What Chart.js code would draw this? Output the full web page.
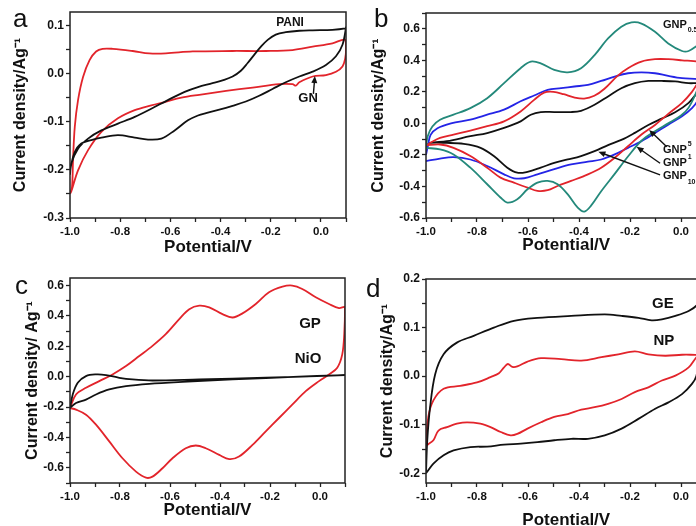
<!DOCTYPE html>
<html>
<head>
<meta charset="utf-8">
<script src="https://cdn.jsdelivr.net/npm/chart.js@4.4.1/dist/chart.umd.min.js"></script>
<style>
  html, body { margin: 0; padding: 0; background: #fff; overflow: hidden; width: 696px; height: 526px; position: relative; }
  canvas { position: absolute; }
</style>
</head>
<body>
<canvas id="chartA" width="350" height="262" style="left:0;top:0"></canvas>
<canvas id="chartB" width="362" height="262" style="left:350px;top:0"></canvas>
<canvas id="chartC" width="350" height="272" style="left:0;top:262px"></canvas>
<canvas id="chartD" width="362" height="272" style="left:350px;top:262px"></canvas>
<script>
const FONT = "'Liberation Sans', Arial, Helvetica, sans-serif";
const INK = '#111111';
const RED = '#e2242b', TEAL = '#24897b', BLUE = '#2424e6', BLACK = '#111111';

// shared potential axis
const xTicks = [-1.0, -0.9, -0.8, -0.7, -0.6, -0.5, -0.4, -0.3, -0.2, -0.1, 0.0, 0.1];
const xMajor = [-1.0, -0.8, -0.6, -0.4, -0.2, 0.0];

// (a) PANI / GN
const aYTicks = [-0.3, -0.25, -0.2, -0.15, -0.1, -0.05, 0.0, 0.05, 0.1];
const aYMajor = [-0.3, -0.2, -0.1, 0.0, 0.1];
const aPaniV = [-1.0, -0.995, -0.968, -0.928, -0.875, -0.809, -0.742, -0.676, -0.61, -0.543, -0.49, -0.432, -0.392, -0.352, -0.319, -0.292, -0.266, -0.239, -0.212, -0.18, -0.14, -0.086, -0.033, 0.046, 0.097,
                0.1, 0.086, 0.06, 0.02, -0.033, -0.086, -0.14, -0.193, -0.246, -0.299, -0.352, -0.405, -0.458, -0.49, -0.53, -0.583, -0.636, -0.689, -0.742, -0.809, -0.875, -0.915, -0.955, -0.981, -0.997, -1.0];
const aPaniI = [-0.21, -0.187, -0.156, -0.135, -0.118, -0.104, -0.09, -0.073, -0.055, -0.038, -0.028, -0.02, -0.014, -0.006, 0.006, 0.022, 0.039, 0.056, 0.07, 0.081, 0.086, 0.089, 0.09, 0.091, 0.094,
                0.096, 0.06, 0.036, 0.018, 0.004, -0.006, -0.018, -0.032, -0.046, -0.058, -0.067, -0.075, -0.082, -0.087, -0.097, -0.118, -0.135, -0.137, -0.133, -0.128, -0.133, -0.138, -0.145, -0.163, -0.194, -0.21];
const aGnV = [-1.0, -0.992, -0.988, -0.981, -0.968, -0.948, -0.922, -0.896, -0.87, -0.83, -0.75, -0.684, -0.618, -0.511, -0.352, -0.219, -0.113, -0.033, 0.046, 0.097,
              0.1, 0.097, 0.086, 0.06, 0.02, -0.033, -0.086, -0.1, -0.113, -0.166, -0.272, -0.378, -0.485, -0.556, -0.623, -0.676, -0.742, -0.809, -0.875, -0.928, -0.968, -0.995, -1.0];
const aGnI = [-0.25, -0.236, -0.18, -0.111, -0.055, -0.007, 0.028, 0.046, 0.0515, 0.0515, 0.047, 0.042, 0.042, 0.046, 0.047, 0.047, 0.049, 0.056, 0.063, 0.07,
              0.05, 0.032, 0.015, 0.004, -0.003, -0.006, -0.018, -0.025, -0.022, -0.022, -0.029, -0.036, -0.044, -0.05, -0.059, -0.066, -0.076, -0.093, -0.121, -0.159, -0.201, -0.245, -0.25];

// (b) GNP series
const bYTicks = [-0.6, -0.5, -0.4, -0.3, -0.2, -0.1, 0.0, 0.1, 0.2, 0.3, 0.4, 0.5, 0.6, 0.7];
const bYMajor = [-0.6, -0.4, -0.2, 0.0, 0.2, 0.4, 0.6];
const bGnp05V = [-1.0, -0.993, -0.975, -0.945, -0.892, -0.826, -0.76, -0.694, -0.629, -0.589, -0.55, -0.497, -0.444, -0.392, -0.339, -0.286, -0.234, -0.194, -0.155, -0.102, -0.05, 0.004, 0.03, 0.067, 0.1,
                 0.085, 0.063, 0.03, 0.0, -0.05, -0.102, -0.155, -0.208, -0.26, -0.313, -0.352, -0.379, -0.405, -0.444, -0.484, -0.523, -0.563, -0.602, -0.642, -0.681, -0.708, -0.76, -0.826, -0.892, -0.945, -1.0];
const bGnp05I = [-0.15, -0.08, -0.02, 0.023, 0.055, 0.097, 0.16, 0.255, 0.35, 0.392, 0.381, 0.339, 0.324, 0.35, 0.433, 0.539, 0.613, 0.64, 0.633, 0.581, 0.507, 0.459, 0.459, 0.497, 0.53,
                 0.33, 0.21, 0.1, 0.05, 0.0, -0.05, -0.11, -0.21, -0.32, -0.43, -0.52, -0.559, -0.534, -0.45, -0.386, -0.365, -0.376, -0.418, -0.481, -0.502, -0.47, -0.386, -0.281, -0.197, -0.165, -0.155];
const bGnp5V = [-1.0, -0.984, -0.945, -0.892, -0.826, -0.76, -0.694, -0.629, -0.576, -0.537, -0.5, -0.46, -0.42, -0.38, -0.34, -0.3, -0.25, -0.208, -0.155, -0.102, -0.05, 0.004, 0.067, 0.1,
                0.067, 0.043, 0.004, -0.05, -0.102, -0.155, -0.208, -0.26, -0.313, -0.365, -0.431, -0.484, -0.523, -0.563, -0.602, -0.655, -0.708, -0.76, -0.826, -0.892, -0.945, -1.0];
const bGnp5I = [-0.14, -0.124, -0.092, -0.071, -0.046, -0.018, 0.013, 0.076, 0.149, 0.195, 0.2, 0.185, 0.165, 0.157, 0.175, 0.22, 0.3, 0.35, 0.392, 0.407, 0.407, 0.4, 0.39, 0.35,
                0.26, 0.2, 0.13, 0.06, -0.01, -0.071, -0.145, -0.218, -0.281, -0.323, -0.365, -0.397, -0.424, -0.428, -0.407, -0.376, -0.344, -0.281, -0.207, -0.155, -0.134, -0.14];
const bGnp1V = [-1.0, -0.993, -0.982, -0.955, -0.902, -0.826, -0.76, -0.694, -0.629, -0.576, -0.523, -0.47, -0.418, -0.365, -0.313, -0.26, -0.208, -0.155, -0.102, -0.05, 0.004, 0.067, 0.1,
                0.067, 0.043, 0.004, -0.05, -0.102, -0.155, -0.208, -0.26, -0.313, -0.365, -0.431, -0.497, -0.563, -0.615, -0.655, -0.694, -0.76, -0.826, -0.892, -0.945, -1.0];
const bGnp1I = [-0.2, -0.147, -0.073, -0.031, 0.0, 0.024, 0.055, 0.087, 0.14, 0.177, 0.213, 0.223, 0.234, 0.244, 0.269, 0.297, 0.318, 0.324, 0.318, 0.301, 0.287, 0.281, 0.27,
                0.149, 0.097, 0.045, -0.008, -0.061, -0.113, -0.155, -0.197, -0.229, -0.243, -0.26, -0.29, -0.323, -0.348, -0.348, -0.323, -0.27, -0.229, -0.214, -0.223, -0.239];
const bGnp10V = [-1.0, -0.984, -0.918, -0.826, -0.76, -0.694, -0.629, -0.589, -0.55, -0.497, -0.431, -0.392, -0.339, -0.286, -0.234, -0.181, -0.128, -0.076, -0.023, 0.03, 0.067, 0.1,
                 0.067, 0.03, -0.023, -0.076, -0.128, -0.181, -0.234, -0.286, -0.339, -0.392, -0.444, -0.497, -0.55, -0.602, -0.642, -0.681, -0.734, -0.786, -0.852, -0.918, -0.984, -1.0];
const bGnp10I = [-0.14, -0.124, -0.113, -0.081, -0.061, -0.029, 0.013, 0.055, 0.072, 0.072, 0.072, 0.08, 0.118, 0.171, 0.223, 0.255, 0.269, 0.269, 0.266, 0.255, 0.255, 0.25,
                 0.2, 0.13, 0.07, 0.03, -0.01, -0.06, -0.105, -0.138, -0.176, -0.207, -0.229, -0.25, -0.281, -0.307, -0.313, -0.281, -0.207, -0.155, -0.13, -0.124, -0.124, -0.14];

// (c) GP / NiO
const cYTicks = [-0.7, -0.6, -0.5, -0.4, -0.3, -0.2, -0.1, 0.0, 0.1, 0.2, 0.3, 0.4, 0.5, 0.6];
const cYMajor = [-0.6, -0.4, -0.2, 0.0, 0.2, 0.4, 0.6];
const cGpV = [-1.0, -0.976, -0.936, -0.883, -0.83, -0.776, -0.723, -0.67, -0.617, -0.563, -0.523, -0.483, -0.443, -0.39, -0.35, -0.31, -0.257, -0.204, -0.15, -0.111, -0.071, -0.017, 0.036, 0.076, 0.1,
              0.097, 0.089, 0.069, 0.036, -0.004, -0.057, -0.111, -0.164, -0.217, -0.27, -0.324, -0.363, -0.403, -0.457, -0.497, -0.537, -0.59, -0.63, -0.67, -0.696, -0.736, -0.79, -0.843, -0.896, -0.936, -0.976, -1.0];
const cGpI = [-0.206, -0.117, -0.073, -0.029, 0.015, 0.07, 0.136, 0.203, 0.28, 0.379, 0.445, 0.468, 0.457, 0.412, 0.39, 0.417, 0.479, 0.556, 0.593, 0.6, 0.578, 0.523, 0.479, 0.452, 0.457,
              0.28, 0.147, 0.059, 0.015, -0.029, -0.095, -0.184, -0.272, -0.36, -0.449, -0.526, -0.543, -0.515, -0.471, -0.453, -0.471, -0.537, -0.603, -0.658, -0.665, -0.625, -0.537, -0.426, -0.316, -0.25, -0.217, -0.206];
const cNioV = [-1.0, -0.989, -0.969, -0.936, -0.896, -0.856, -0.803, -0.75, -0.67, -0.483, -0.217, 0.1,
               -0.084, -0.35, -0.55, -0.683, -0.776, -0.843, -0.896, -0.936, -0.976, -1.0];
const cNioI = [-0.206, -0.117, -0.04, 0.004, 0.015, 0.011, -0.007, -0.018, -0.025, -0.018, -0.007, 0.011,
               0.0, -0.018, -0.034, -0.047, -0.062, -0.084, -0.117, -0.151, -0.173, -0.206];

// (d) GE / NP
const dYTicks = [-0.2, -0.15, -0.1, -0.05, 0.0, 0.05, 0.1, 0.15, 0.2];
const dYMajor = [-0.2, -0.1, 0.0, 0.1, 0.2];
const dGeV = [-1.0, -0.995, -0.984, -0.964, -0.931, -0.879, -0.813, -0.734, -0.655, -0.563, -0.431, -0.299, -0.233, -0.167, -0.115, -0.075, -0.022, 0.03, 0.067, 0.1,
              0.085, 0.07, 0.06, 0.043, 0.004, -0.049, -0.101, -0.167, -0.233, -0.299, -0.365, -0.431, -0.497, -0.563, -0.628, -0.694, -0.76, -0.826, -0.892, -0.931, -0.971, -0.997, -1.0];
const dGeI = [-0.2, -0.132, -0.064, 0.004, 0.045, 0.069, 0.083, 0.1, 0.114, 0.12, 0.124, 0.127, 0.124, 0.12, 0.115, 0.117, 0.124, 0.134, 0.148, 0.17,
              0.1, 0.03, 0.0, -0.016, -0.037, -0.054, -0.067, -0.088, -0.108, -0.122, -0.129, -0.129, -0.132, -0.136, -0.139, -0.141, -0.145, -0.146, -0.153, -0.163, -0.18, -0.198, -0.2];
const dNpV = [-1.0, -0.991, -0.971, -0.931, -0.866, -0.8, -0.747, -0.714, -0.694, -0.679, -0.661, -0.642, -0.602, -0.549, -0.47, -0.391, -0.312, -0.246, -0.181, -0.128, -0.062, 0.004, 0.067, 0.1,
              0.067, 0.03, -0.022, -0.075, -0.128, -0.181, -0.233, -0.286, -0.339, -0.391, -0.444, -0.497, -0.549, -0.602, -0.642, -0.668, -0.707, -0.747, -0.787, -0.839, -0.879, -0.918, -0.951, -0.971, -0.991, -1.0];
const dNpI = [-0.142, -0.084, -0.05, -0.026, -0.02, -0.013, -0.002, 0.006, 0.018, 0.025, 0.019, 0.02, 0.03, 0.037, 0.035, 0.032, 0.039, 0.045, 0.051, 0.045, 0.042, 0.044, 0.044, 0.045,
              0.042, 0.018, 0.001, -0.009, -0.023, -0.033, -0.047, -0.057, -0.064, -0.069, -0.078, -0.084, -0.095, -0.108, -0.119, -0.122, -0.115, -0.105, -0.098, -0.095, -0.098, -0.105, -0.112, -0.132, -0.14, -0.142];

const pts = (v, i) => v.map((x, k) => ({ x, y: i[k] }));
const fmt = v => Math.abs(v) < 1e-9 ? '0.0' : v.toFixed(1);
const isIn = (list, v) => list.some(m => Math.abs(m - v) < 1e-6);

function arrow(ctx, x1, y1, x2, y2) {
    const a = Math.atan2(y2 - y1, x2 - x1), h = 7, w = 3;
    ctx.beginPath(); ctx.moveTo(x1, y1); ctx.lineTo(x2 - Math.cos(a) * h * 0.8, y2 - Math.sin(a) * h * 0.8); ctx.stroke();
    ctx.beginPath(); ctx.moveTo(x2, y2);
    ctx.lineTo(x2 - h * Math.cos(a) + w * Math.sin(a), y2 - h * Math.sin(a) - w * Math.cos(a));
    ctx.lineTo(x2 - h * Math.cos(a) - w * Math.sin(a), y2 - h * Math.sin(a) + w * Math.cos(a));
    ctx.closePath(); ctx.fill();
}

// box around the plot, panel letter, curve labels and arrows
const decor = {
    id: 'decor',
    afterDatasetsDraw(chart, args, o) {
        const { ctx, chartArea: a, scales: { x, y } } = chart;
        ctx.save();
        ctx.strokeStyle = '#222'; ctx.lineWidth = 1.5;
        ctx.strokeRect(a.left, a.top, a.right - a.left, a.bottom - a.top);
        ctx.fillStyle = INK; ctx.strokeStyle = INK;
        (o.labels || []).forEach(l => {
            const px = x.getPixelForValue(l.v), py = y.getPixelForValue(l.i);
            ctx.font = `bold ${l.size}px ${FONT}`;
            ctx.textAlign = l.align || 'center'; ctx.textBaseline = 'middle';
            ctx.fillText(l.text, px, py);
            if (l.script) {
                const w = ctx.measureText(l.text).width;
                ctx.font = `bold 7px ${FONT}`; ctx.textAlign = 'left';
                ctx.fillText(l.script, px + w + 1, py + l.dy);
            }
        });
        ctx.lineWidth = 1.4;
        (o.arrows || []).forEach(r => arrow(ctx, x.getPixelForValue(r[0]), y.getPixelForValue(r[1]), x.getPixelForValue(r[2]), y.getPixelForValue(r[3])));
        ctx.font = `26px ${FONT}`; ctx.textAlign = 'left'; ctx.textBaseline = 'alphabetic';
        ctx.fillText(o.letter[0], o.letter[1], o.letter[2]);
        ctx.restore();
    }
};

function line(data, color) {
    return { data, borderColor: color, borderWidth: 1.8, pointRadius: 0, showLine: true, fill: false, tension: 0.35 };
}

function panel(id, p) {
    return new Chart(document.getElementById(id), {
        type: 'scatter',
        data: { datasets: p.datasets },
        plugins: [decor],
        options: {
            responsive: false, animation: false,
            layout: { padding: { top: p.top, right: p.right, left: 0, bottom: 0 } },
            plugins: { legend: { display: false }, tooltip: { enabled: false }, decor: p.decor },
            scales: {
                x: {
                    type: 'linear', min: -1, max: 0.1,
                    afterBuildTicks: s => { s.ticks = xTicks.map(value => ({ value })); },
                    afterFit: s => { s.height = p.xh; },
                    border: { display: false },
                    grid: { drawOnChartArea: false, tickLength: 4, tickColor: '#222', tickWidth: 1.3 },
                    ticks: { autoSkip: false, maxRotation: 0, padding: 3, color: INK, font: { family: FONT, size: 11.5, weight: 'bold' },
                             callback: v => isIn(xMajor, v) ? fmt(v) : '' },
                    title: { display: true, text: 'Potential/V', color: INK, font: { family: FONT, size: 17, weight: 'bold' },
                             padding: { top: 0, bottom: p.xtp } }
                },
                y: {
                    type: 'linear', min: p.ymin, max: p.ymax,
                    afterBuildTicks: s => { s.ticks = p.yTicks.map(value => ({ value })); },
                    afterFit: s => { s.width = p.yw; },
                    border: { display: false },
                    grid: { drawOnChartArea: false, tickLength: 4, tickColor: '#222', tickWidth: 1.3 },
                    ticks: { autoSkip: false, padding: 2, color: INK, font: { family: FONT, size: 12, weight: 'bold' },
                             callback: v => isIn(p.yMajor, v) ? fmt(v) : '' },
                    title: { display: true, text: p.ytitle, color: INK, font: { family: FONT, size: 16, weight: 'bold' },
                             padding: { top: p.ytp, bottom: 0 } }
                }
            }
        }
    });
}

panel('chartA', {
    top: 12, right: 4, xh: 44, yw: 70, xtp: 4.8, ytp: 11.4, ymin: -0.3, ymax: 0.128,
    yTicks: aYTicks, yMajor: aYMajor, ytitle: 'Current density/Ag\u207B\u00B9',
    datasets: [line(pts(aPaniV, aPaniI), BLACK), line(pts(aGnV, aGnI), RED)],
    decor: {
        letter: ['a', 13, 27],
        labels: [{ text: 'PANI', v: -0.123, i: 0.105, size: 12 }, { text: 'GN', v: -0.051, i: -0.051, size: 13 }],
        arrows: [[-0.03, -0.042, -0.024, -0.005]]
    }
});

panel('chartB', {
    top: 13, right: 5.5, xh: 44, yw: 76, xtp: 6.8, ytp: 19.4, ymin: -0.6, ymax: 0.7,
    yTicks: bYTicks, yMajor: bYMajor, ytitle: 'Current density/Ag\u207B\u00B9',
    datasets: [line(pts(bGnp05V, bGnp05I), TEAL), line(pts(bGnp5V, bGnp5I), RED),
               line(pts(bGnp1V, bGnp1I), BLUE), line(pts(bGnp10V, bGnp10I), BLACK)],
    decor: {
        letter: ['b', 24, 27],
        labels: [
            { text: 'GNP', v: -0.071, i: 0.624, size: 11, align: 'left', script: '0.5', dy: 5 },
            { text: 'GNP', v: -0.071, i: -0.169, size: 11, align: 'left', script: '5', dy: -6 },
            { text: 'GNP', v: -0.071, i: -0.251, size: 11, align: 'left', script: '1', dy: -6 },
            { text: 'GNP', v: -0.071, i: -0.334, size: 11, align: 'left', script: '10', dy: 6 }
        ],
        arrows: [[-0.056, -0.148, -0.125, -0.042], [-0.082, -0.253, -0.174, -0.148], [-0.082, -0.327, -0.324, -0.18]]
    }
});

panel('chartC', {
    top: 16, right: 5, xh: 51, yw: 70, xtp: 13.8, ytp: 23.4, ymin: -0.7, ymax: 0.65,
    yTicks: cYTicks, yMajor: cYMajor, ytitle: 'Current density/ Ag\u207B\u00B9',
    datasets: [line(pts(cNioV, cNioI), BLACK), line(pts(cGpV, cGpI), RED)],
    decor: {
        letter: ['c', 15, 32],
        labels: [{ text: 'GP', v: -0.04, i: 0.347, size: 15 }, { text: 'NiO', v: -0.048, i: 0.117, size: 15 }]
    }
});

panel('chartD', {
    top: 17, right: 5.5, xh: 51, yw: 76, xtp: 3.8, ytp: 28.4, ymin: -0.22, ymax: 0.2,
    yTicks: dYTicks, yMajor: dYMajor, ytitle: 'Current density/Ag\u207B\u00B9',
    datasets: [line(pts(dGeV, dGeI), BLACK), line(pts(dNpV, dNpI), RED)],
    decor: {
        letter: ['d', 16, 35],
        labels: [{ text: 'GE', v: -0.071, i: 0.149, size: 15 }, { text: 'NP', v: -0.067, i: 0.072, size: 15 }]
    }
});
</script>
</body>
</html>
